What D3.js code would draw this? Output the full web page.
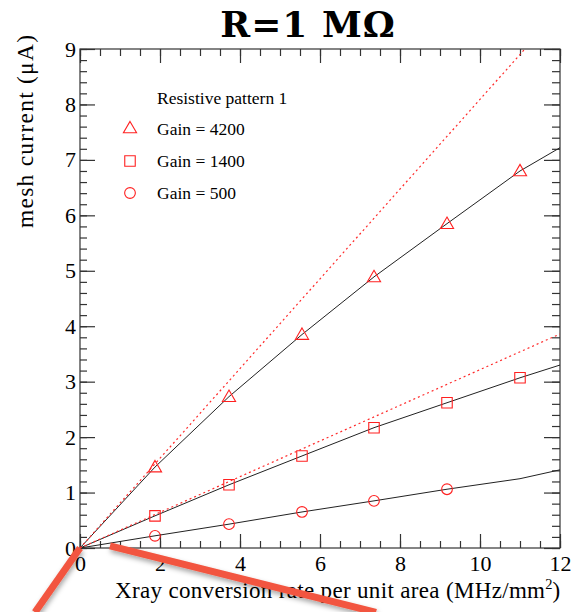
<!DOCTYPE html>
<html>
<head>
<meta charset="utf-8">
<script src="https://cdn.jsdelivr.net/npm/d3@7"></script>
<style>
  body { margin: 0; background: #fff; }
  svg { display: block; }
  text { fill: #000; }
</style>
</head>
<body>
<div id="container"></div>
<script>
const rates = [1.875, 3.725, 5.55, 7.35, 9.175, 11.0];
const gain4200 = [1.46, 2.73, 3.85, 4.89, 5.85, 6.80];
const gain1400 = [0.58, 1.14, 1.66, 2.17, 2.62, 3.07];
const gain500 = [0.22, 0.43, 0.65, 0.85, 1.06];

// black fit curves (start at origin, end at x = 12)
const fitX = [0, 1.875, 3.725, 5.55, 7.35, 9.175, 11.0, 12];
const fit4200 = [0, 1.46, 2.73, 3.85, 4.89, 5.85, 6.80, 7.22];
const fit1400 = [0, 0.58, 1.14, 1.66, 2.17, 2.62, 3.07, 3.30];
const fit500 = [0, 0.22, 0.43, 0.65, 0.85, 1.06, 1.25, 1.41];

// red dotted linear extrapolations
const linX = [0, 12];
const lin4200 = [0, 9.71];
const lin1400 = [0, 3.86];

const legendLabels = ['Gain = 4200', 'Gain = 1400', 'Gain = 500'];
const legendSymbols = ['triangle', 'square', 'circle'];

// annotation strokes drawn over the figure (data units)
const annotations = [
  [[0, 0], [-1.125, -1.16]],
  [[0.75, 0.04], [7.4, -1.16]]
];

const W = 577, H = 612;
const margin = { top: 49, right: 17, bottom: 64, left: 80 };
const serif = '"Liberation Serif", "Times New Roman", serif';

const svg = d3.select('#container')
  .append('svg')
  .attr('width', W)
  .attr('height', H)
  .style('font-family', serif);

const x = d3.scaleLinear().domain([0, 12]).range([margin.left, W - margin.right]);
const y = d3.scaleLinear().domain([0, 9]).range([H - margin.bottom, margin.top]);

svg.append('clipPath').attr('id', 'plotclip')
  .append('rect')
  .attr('x', x(0)).attr('y', y(9))
  .attr('width', x(12) - x(0)).attr('height', y(0) - y(9));

/*==================================================
    AXES
===================================================*/
const axisColor = '#333';
const styleAxis = g => {
  g.select('.domain').remove();
  g.selectAll('line').attr('stroke', axisColor).attr('stroke-width', 1.2);
};
const styleLabels = g => g.selectAll('text')
  .attr('font-size', 22)
  .attr('fill', '#000')
  .style('font-family', serif);

const xMajor = d3.range(0, 12.01, 2);
const xMinor = d3.range(0, 12.01, 0.5);
const yMajor = d3.range(0, 9.01, 1);
const yMinor = d3.range(0, 9.01, 0.2);

// bottom
svg.append('g')
  .attr('transform', `translate(0,${y(0)})`)
  .call(d3.axisBottom(x).tickValues(xMinor).tickSize(-7).tickFormat(''))
  .call(styleAxis);
svg.append('g')
  .attr('transform', `translate(0,${y(0)})`)
  .call(d3.axisBottom(x).tickValues(xMajor).tickSize(-14).tickPadding(7).tickFormat(d3.format('d')))
  .call(styleAxis)
  .call(styleLabels);

// top
svg.append('g')
  .attr('transform', `translate(0,${y(9)})`)
  .call(d3.axisTop(x).tickValues(xMinor).tickSize(-7).tickFormat(''))
  .call(styleAxis);
svg.append('g')
  .attr('transform', `translate(0,${y(9)})`)
  .call(d3.axisTop(x).tickValues(xMajor).tickSize(-14).tickFormat(''))
  .call(styleAxis);

// left
svg.append('g')
  .attr('transform', `translate(${x(0)},0)`)
  .call(d3.axisLeft(y).tickValues(yMinor).tickSize(-7).tickFormat(''))
  .call(styleAxis);
svg.append('g')
  .attr('transform', `translate(${x(0)},0)`)
  .call(d3.axisLeft(y).tickValues(yMajor).tickSize(-15).tickPadding(4).tickFormat(d3.format('d')))
  .call(styleAxis)
  .call(styleLabels);

// right
svg.append('g')
  .attr('transform', `translate(${x(12)},0)`)
  .call(d3.axisRight(y).tickValues(yMinor).tickSize(-8).tickFormat(''))
  .call(styleAxis);
svg.append('g')
  .attr('transform', `translate(${x(12)},0)`)
  .call(d3.axisRight(y).tickValues(yMajor).tickSize(-16).tickFormat(''))
  .call(styleAxis);

// frame
svg.append('rect')
  .attr('x', x(0)).attr('y', y(9))
  .attr('width', x(12) - x(0)).attr('height', y(0) - y(9))
  .attr('fill', 'none')
  .attr('stroke', axisColor)
  .attr('stroke-width', 1.2);

/*==================================================
    LINES
===================================================*/
const plot = svg.append('g').attr('clip-path', 'url(#plotclip)');
const line = d3.line().x(d => x(d[0])).y(d => y(d[1]));

[fit4200, fit1400, fit500].forEach(vals => {
  plot.append('path')
    .datum(fitX.map((v, i) => [v, vals[i]]))
    .attr('d', line)
    .attr('fill', 'none')
    .attr('stroke', '#222')
    .attr('stroke-width', 1);
});

[lin4200, lin1400].forEach(vals => {
  plot.append('path')
    .datum(linX.map((v, i) => [v, vals[i]]))
    .attr('d', line)
    .attr('fill', 'none')
    .attr('stroke', '#ff2a2a')
    .attr('stroke-width', 1.2)
    .attr('stroke-dasharray', '2,3');
});

/*==================================================
    MARKERS
===================================================*/
const red = '#ff2020';
const symbolFor = {
  triangle: d3.symbol().type(d3.symbolTriangle).size(75),
  square: d3.symbol().type(d3.symbolSquare).size(110),
  circle: d3.symbol().type(d3.symbolCircle).size(90)
};

const drawMarkers = (vals, kind) => {
  plot.selectAll(null)
    .data(vals)
    .enter()
    .append('path')
    .attr('d', symbolFor[kind])
    .attr('transform', (d, i) => `translate(${x(rates[i])},${y(d) + (kind === 'triangle' ? 1 : 0)})`)
    .attr('fill', 'none')
    .attr('stroke', red)
    .attr('stroke-width', 1.1);
};
drawMarkers(gain4200, 'triangle');
drawMarkers(gain1400, 'square');
drawMarkers(gain500, 'circle');

/*==================================================
    LEGEND
===================================================*/
const legend = svg.append('g');
legend.append('text')
  .attr('x', 157).attr('y', 104)
  .attr('font-size', 17.5)
  .text('Resistive pattern 1');

legendLabels.forEach((label, i) => {
  const ly = 129 + i * 32;
  legend.append('path')
    .attr('d', symbolFor[legendSymbols[i]])
    .attr('transform', `translate(130,${ly})`)
    .attr('fill', 'none')
    .attr('stroke', red)
    .attr('stroke-width', 1.1);
  legend.append('text')
    .attr('x', 157).attr('y', ly + 6)
    .attr('font-size', 17.5)
    .text(label);
});

/*==================================================
    TITLES
===================================================*/
svg.append('text')
  .attr('x', 308).attr('y', 37)
  .attr('text-anchor', 'middle')
  .style('font-family', '"DejaVu Serif", serif')
  .attr('font-weight', 'bold')
  .attr('font-size', 36)
  .attr('letter-spacing', 1)
  .text('R=1 M\u03A9');

const xLabel = svg.append('text')
  .attr('x', 115).attr('y', 598)
  .attr('font-size', 23);
xLabel.append('tspan')
  .attr('textLength', 430)
  .attr('lengthAdjust', 'spacing')
  .text('Xray conversion rate per unit area (MHz/mm');
xLabel.append('tspan').attr('font-size', 14.5).attr('dy', -9).text('2');
xLabel.append('tspan').attr('dy', 9).text(')');

svg.append('text')
  .attr('transform', `translate(33,${y(9) - 14}) rotate(-90)`)
  .attr('text-anchor', 'end')
  .attr('font-size', 23.5)
  .attr('textLength', 193)
  .attr('lengthAdjust', 'spacing')
  .text('mesh current (\u03BCA)');

/*==================================================
    ANNOTATION STROKES
===================================================*/
const defs = svg.append('defs');
defs.append('filter').attr('id', 'shadow')
  .attr('x', '-20%').attr('y', '-20%').attr('width', '140%').attr('height', '160%')
  .append('feDropShadow')
  .attr('dx', 1).attr('dy', 3).attr('stdDeviation', 2.5)
  .attr('flood-color', '#000').attr('flood-opacity', 0.35);

annotations.forEach(seg => {
  svg.append('path')
    .datum(seg)
    .attr('d', line)
    .attr('stroke', '#f2553f')
    .attr('stroke-width', 7)
    .attr('fill', 'none')
    .attr('filter', 'url(#shadow)');
});
</script>
</body>
</html>
